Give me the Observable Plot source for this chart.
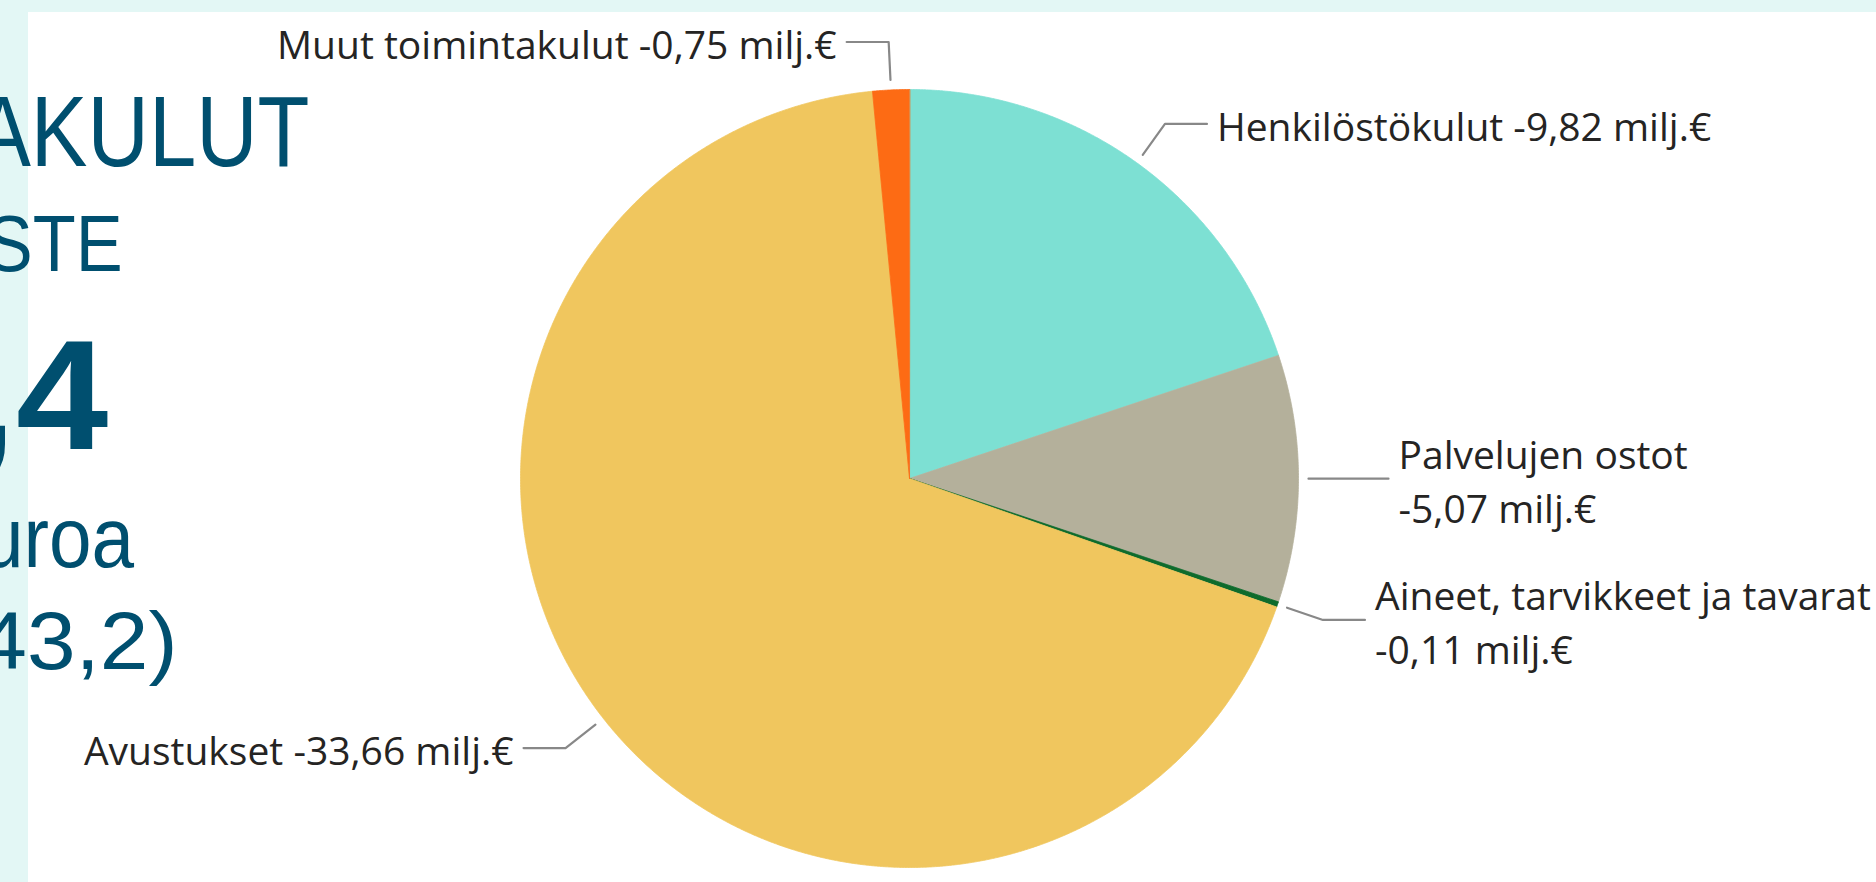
<!DOCTYPE html>
<html>
<head>
<meta charset="utf-8">
<script src="https://cdn.jsdelivr.net/npm/d3@7"></script>
<script src="https://cdn.jsdelivr.net/npm/@observablehq/plot@0.6"></script>
<style>
  html, body { margin: 0; padding: 0; }
  body { width: 1876px; height: 882px; background: #e3f7f5; position: relative; overflow: hidden; }
  #panel { position: absolute; left: 28px; top: 12px; right: 0; bottom: 0; background: #ffffff; }
  #chart { position: absolute; left: 0; top: 0; }
  .big { position: absolute; white-space: nowrap; color: #004f6f; font-family: "Liberation Sans", Arial, sans-serif;
         line-height: 1; text-align: right; transform-origin: right center; z-index: 3; }
</style>
</head>
<body>
<div id="panel"></div>
<div id="chart"></div>
<div class="big" style="right:1566px;top:81px;font-size:100px;transform:scaleX(0.85);">AKULUT</div>
<div class="big" style="right:1753px;top:204px;font-size:80px;transform:scaleX(0.88);">STE</div>
<div class="big" style="right:1768px;top:318px;font-size:155px;font-weight:bold;transform:scaleX(1.07);">,4</div>
<div class="big" style="right:1742px;top:495px;font-size:85px;transform:scaleX(0.9);">uroa</div>
<div class="big" style="right:1698px;top:601px;font-size:81px;transform:scaleX(1.08);">43,2)</div>
<script>
// ---- data ----
const categories = ["Henkilöstökulut", "Palvelujen ostot", "Aineet, tarvikkeet ja tavarat", "Avustukset", "Muut toimintakulut"];
const values = [-9.82, -5.07, -0.11, -33.66, -0.75];
const colors = ["#7de0d3", "#b4b09b", "#0e6b2c", "#f0c65e", "#fd6b14"];
const unit = "milj.€";

// ---- layout ----
const W = 1876, H = 882, cx = 909, cy = 478, R = 389;
const labelFont = 39, labelFamily = "'Open Sans', sans-serif";

const rows = categories.map((name, i) => ({name, value: values[i]}));
const arcs = d3.pie().sort(null).value(d => Math.abs(d.value))(rows);

const fmt = v => v.toFixed(2).replace(".", ",") + " " + unit;

// slice polygons
const slicePts = [];
for (const a of arcs) {
  const name = a.data.name;
  slicePts.push({name, x: 0, y: 0});
  const n = Math.max(2, Math.ceil((a.endAngle - a.startAngle) / 0.004));
  for (let i = 0; i <= n; i++) {
    const t = a.startAngle + (a.endAngle - a.startAngle) * i / n;
    slicePts.push({name, x: R * Math.sin(t), y: -R * Math.cos(t)});
  }
}

// leaders and labels
const canvas = document.createElement("canvas");
const ctx = canvas.getContext("2d");
ctx.font = `${labelFont}px ${labelFamily}`;

const leaderPts = [];
const labels = [];
for (const a of arcs) {
  const name = a.data.name;
  const mid = (a.startAngle + a.endAngle) / 2;
  const s = Math.sin(mid), c = Math.cos(mid);
  const dir = s >= 0 ? 1 : -1;
  const r0 = R + 10, r1 = R + 48;
  const p0 = {x: r0 * s, y: -r0 * c};
  const p1 = {x: r1 * s, y: -r1 * c};
  const p2 = {x: p1.x + dir * 42, y: p1.y};
  leaderPts.push({name, ...p0}, {name, ...p1}, {name, ...p2});
  const full = name + " " + fmt(a.data.value);
  const lx = p2.x + dir * 10;
  const w = ctx.measureText(full).width;
  const px = lx + cx;
  const fits = dir > 0 ? px + w < W - 30 : px - w > 30;
  const text = fits ? full : name + "\n" + fmt(a.data.value);
  labels.push({name, x: lx, y: p1.y, text, dir});
}

const chart = Plot.plot({
  width: W,
  height: H,
  margin: 0,
  style: {background: "transparent", overflow: "visible"},
  x: {domain: [-cx, W - cx], range: [0, W], axis: null},
  y: {domain: [-cy, H - cy], range: [0, H], axis: null},
  color: {domain: categories, range: colors},
  marks: [
    Plot.line(slicePts, {x: "x", y: "y", z: "name", fill: "name", stroke: "name", strokeWidth: 0.8, curve: "linear-closed"}),
    Plot.line(leaderPts, {x: "x", y: "y", z: "name", stroke: "#888888", strokeWidth: 2.2}),
    Plot.text(labels.filter(d => d.dir > 0), {x: "x", y: "y", text: "text", textAnchor: "start", lineAnchor: "middle",
      fontSize: labelFont, fontFamily: labelFamily, lineHeight: 1.38, fill: "#252423"}),
    Plot.text(labels.filter(d => d.dir < 0), {x: "x", y: "y", text: "text", textAnchor: "end", lineAnchor: "middle",
      fontSize: labelFont, fontFamily: labelFamily, lineHeight: 1.38, fill: "#252423"})
  ]
});
document.getElementById("chart").appendChild(chart);
</script>
</body>
</html>
